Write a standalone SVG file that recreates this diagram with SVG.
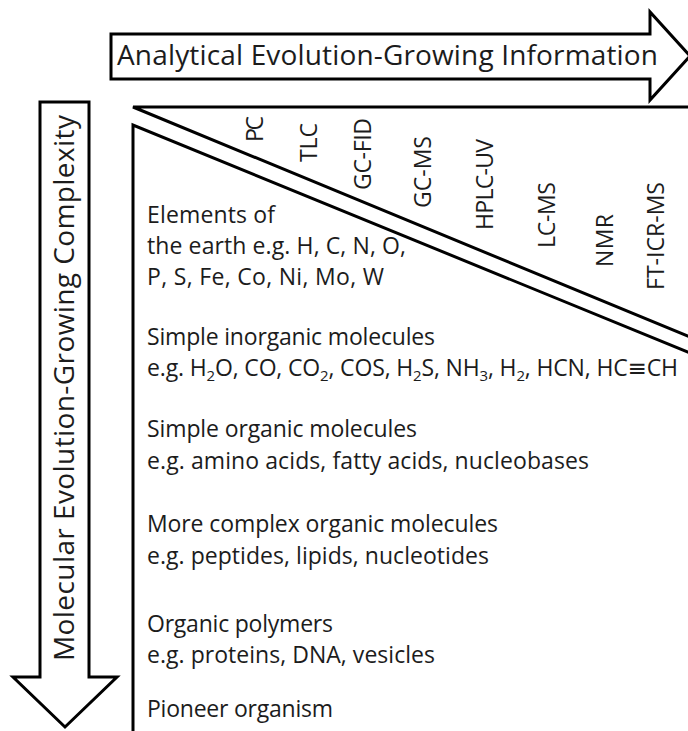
<svg xmlns="http://www.w3.org/2000/svg" width="688" height="731" viewBox="0 0 688 731">
<style>
.shape{fill:#fff;stroke:#000;stroke-width:3;stroke-linejoin:miter}
.line{fill:none;stroke:#000;stroke-width:3;stroke-linejoin:miter}
text{font-family:"Open Sans","Noto Sans","DejaVu Sans",sans-serif;fill:#1c1c1c}
.big{font-size:28px}
.lab{font-size:23px}
.body{font-size:23px}
.sub{font-size:15px}
</style>
<rect width="688" height="731" fill="#fff"/>
<g id="top-arrow">
<polygon class="shape" points="111,34 650,34 650,12 690,56 650,100 650,79 111,79"/>
<text class="big" x="117" y="65" textLength="541">Analytical Evolution-Growing Information</text>
</g>
<g id="left-arrow">
<polygon class="shape" points="40,102 89,102 89,677 117,677 65,727 13,677 40,677"/>
<text class="big" transform="translate(74,661) rotate(-90)" textLength="546">Molecular Evolution-Growing Complexity</text>
</g>
<g id="connectors">
<path id="technique-triangle" class="line" d="M690,107 L133,107 L690,337"/>
<path id="molecule-triangle" class="line" d="M690,353 L133,125 L133,733"/>
</g>
<g id="techniques" class="lab">
<text class="lab" transform="translate(263,142) rotate(-90)" textLength="26">PC</text>
<text class="lab" transform="translate(317,162) rotate(-90)" textLength="39">TLC</text>
<text class="lab" transform="translate(371,190) rotate(-90)" textLength="72">GC-FID</text>
<text class="lab" transform="translate(431,208) rotate(-90)" textLength="72">GC-MS</text>
<text class="lab" transform="translate(493,230) rotate(-90)" textLength="91">HPLC-UV</text>
<text class="lab" transform="translate(555,248) rotate(-90)" textLength="66">LC-MS</text>
<text class="lab" transform="translate(613,267) rotate(-90)" textLength="53">NMR</text>
<text class="lab" transform="translate(664,290) rotate(-90)" textLength="108">FT-ICR-MS</text>
</g>
<g id="level-elements">
<text class="body" x="147" y="223" textLength="128">Elements of</text>
<text class="body" x="147" y="254" textLength="259">the earth e.g. H, C, N, O,</text>
<text class="body" x="147" y="285" textLength="237">P, S, Fe, Co, Ni, Mo, W</text>
</g>
<g id="level-inorganic">
<text class="body" x="147" y="345" textLength="288">Simple inorganic molecules</text>
<text class="body" x="147" y="376" textLength="531">e.g. H<tspan class="sub" dy="5">2</tspan><tspan dy="-5">O, CO, CO</tspan><tspan class="sub" dy="5">2</tspan><tspan dy="-5">, COS, H</tspan><tspan class="sub" dy="5">2</tspan><tspan dy="-5">S, NH</tspan><tspan class="sub" dy="5">3</tspan><tspan dy="-5">, H</tspan><tspan class="sub" dy="5">2</tspan><tspan dy="-5">, HCN, HC≡CH</tspan></text>
</g>
<g id="level-simple-organic">
<text class="body" x="147" y="437" textLength="270">Simple organic molecules</text>
<text class="body" x="147" y="469" textLength="442">e.g. amino acids, fatty acids, nucleobases</text>
</g>
<g id="level-complex-organic">
<text class="body" x="147" y="532" textLength="351">More complex organic molecules</text>
<text class="body" x="147" y="564" textLength="342">e.g. peptides, lipids, nucleotides</text>
</g>
<g id="level-polymers">
<text class="body" x="147" y="632" textLength="186">Organic polymers</text>
<text class="body" x="147" y="663" textLength="288">e.g. proteins, DNA, vesicles</text>
</g>
<g id="level-pioneer">
<text class="body" x="147" y="717" textLength="186">Pioneer organism</text>
</g>
</svg>
